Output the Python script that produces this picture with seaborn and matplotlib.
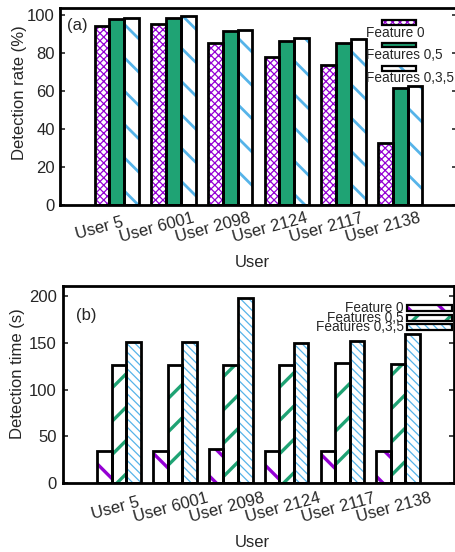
import pandas as pd
import matplotlib
matplotlib.use('Agg')
import matplotlib.pyplot as plt
import matplotlib.transforms as mtransforms
from matplotlib.patches import Rectangle
import seaborn as sns

# data
users = ['User 5', 'User 6001', 'User 2098', 'User 2124', 'User 2117', 'User 2138']
features = ['Feature 0', 'Features 0,5', 'Features 0,3,5']

rate_f0 = [94.2, 95.3, 85.1, 77.7, 73.7, 32.8]
rate_f05 = [97.9, 98.4, 91.6, 86.5, 85.1, 61.4]
rate_f035 = [98.4, 99.5, 91.9, 88.0, 87.2, 62.6]

time_f0 = [34.3, 34.3, 36.1, 34.3, 34.3, 34.3]
time_f05 = [126.7, 126.7, 126.4, 126.0, 128.2, 128.0]
time_f035 = [151.4, 150.7, 198.5, 150.3, 152.0, 159.6]

purple = '#9400d3'
green = '#1fa374'
blue = '#56b4e9'

sns.set_theme(style='white')
plt.rcParams['font.family'] = ['Liberation Sans', 'DejaVu Sans']
plt.rcParams['hatch.linewidth'] = 0.8

FS = 6.0
LFS = 4.9
DPI = 200


def long_df(vals):
    rows = []
    for feat, series in zip(features, vals):
        for u, v in zip(users, series):
            rows.append({'user': u, 'feature': feat, 'value': v})
    return pd.DataFrame(rows)


df_rate = long_df([rate_f0, rate_f05, rate_f035])
df_time = long_df([time_f0, time_f05, time_f035])

top_styles = [
    dict(fc='white', hatch='x' * 9, hc=purple, hlw=0.45),
    dict(fc=green, hatch=None, hc=green, hlw=0.5),
    dict(fc='white', hatch='\\' * 2, hc=blue, hlw=1.0),
]
bot_styles = [
    dict(fc='white', hatch='\\' * 2, hc=purple, hlw=1.2),
    dict(fc='white', hatch='/' * 2, hc=green, hlw=1.2),
    dict(fc='white', hatch='\\' * 8, hc=blue, hlw=0.45),
]


def style_patch(p, st):
    p.set_facecolor(st['fc'])
    p.set_edgecolor(st['hc'])
    p.set_linewidth(0)
    if st['hatch']:
        p.set_hatch(st['hatch'])
    if hasattr(p, 'set_hatch_linewidth'):
        p.set_hatch_linewidth(st['hlw'])


def outline(ax, p):
    ax.add_patch(Rectangle(p.get_xy(), p.get_width(), p.get_height(),
                           fill=False, ec='black', lw=1.0,
                           zorder=p.get_zorder() + 0.1))


def draw_panel(ax, df, styles, ylim, yticks, ylabel, lab_pad, lab_dx):
    sns.barplot(data=df, x='user', y='value', hue='feature', ax=ax,
                width=0.78, legend=False, errorbar=None,
                palette=['white', 'white', 'white'])
    bars = list(ax.patches)
    for i, p in enumerate(bars):
        style_patch(p, styles[i // len(users)])
    for p in bars:
        outline(ax, p)
    ax.set_xlim(-1, 6)
    ax.set_ylim(*ylim)
    ax.set_yticks(yticks)
    ax.set_xticks(range(len(users)))
    ax.set_xticklabels(users, rotation=15, ha='center', va='center',
                       rotation_mode='anchor', fontsize=FS)
    ax.tick_params(axis='y', direction='in', length=1.8, width=0.6,
                   right=True, left=True, labelsize=FS)
    ax.tick_params(axis='x', length=0, pad=lab_pad)
    shift = mtransforms.ScaledTranslation(lab_dx / DPI, 0,
                                          ax.figure.dpi_scale_trans)
    for lbl in ax.get_xticklabels():
        lbl.set_transform(lbl.get_transform() + shift)
    for s in ax.spines.values():
        s.set_linewidth(1.0)
        s.set_color('black')
    ax.set_ylabel(ylabel, fontsize=FS)
    ax.set_xlabel('User', fontsize=FS)


fig = plt.figure(figsize=(2.28, 2.76), dpi=DPI)
W, H = 456, 552
ax1 = fig.add_axes([60 / W, 1 - 205 / H, 397 / W, 197 / H])
ax2 = fig.add_axes([63.3 / W, 1 - 483 / H, 390.7 / W, 197.3 / H])

draw_panel(ax1, df_rate, top_styles, (0, 103.7), [0, 20, 40, 60, 80, 100],
           'Detection rate (%)', 8.3, -17)
draw_panel(ax2, df_time, bot_styles, (0, 211.4), [0, 50, 100, 150, 200],
           'Detection time (s)', 9.0, -4)

ax1.tick_params(axis='y', pad=1.8)
ax2.tick_params(axis='y', pad=2.4)

ax1.yaxis.set_label_coords(-0.083, 0.569)
ax2.yaxis.set_label_coords(-0.098, 0.5525)
ax1.xaxis.set_label_coords(0.484, -0.254)
ax2.xaxis.set_label_coords(0.483, -0.264)

ax1.text(0.018, 0.909, '(a)', transform=ax1.transAxes, fontsize=FS,
         ha='left', va='center')
ax2.text(0.033, 0.851, '(b)', transform=ax2.transAxes, fontsize=FS,
         ha='left', va='center')

# legend of panel (a): key sample above its text
for i, (feat, st) in enumerate(zip(features, top_styles)):
    yc = [0.926, 0.812, 0.695][i]
    yt = [0.873, 0.761, 0.645][i]
    r = Rectangle((0.811, yc - 0.0125), 0.086, 0.025, transform=ax1.transAxes,
                  zorder=5)
    style_patch(r, st)
    ax1.add_patch(r)
    ax1.add_patch(Rectangle((0.811, yc - 0.0125), 0.086, 0.025,
                            transform=ax1.transAxes, fill=False, ec='black',
                            lw=0.8, zorder=6))
    ax1.text(0.771, yt, feat, transform=ax1.transAxes, fontsize=LFS,
             ha='left', va='center', zorder=7)

# legend of panel (b): text, then key sample to its right
for i, (feat, st) in enumerate(zip(features, bot_styles)):
    yc = [0.885, 0.838, 0.789][i]
    r = Rectangle((0.88, yc - 0.015), 0.114, 0.03, transform=ax2.transAxes,
                  zorder=5)
    style_patch(r, st)
    ax2.add_patch(r)
    ax2.add_patch(Rectangle((0.88, yc - 0.015), 0.114, 0.03,
                            transform=ax2.transAxes, fill=False, ec='black',
                            lw=0.8, zorder=6))
    ax2.text(0.872, yc, feat, transform=ax2.transAxes, fontsize=LFS,
             ha='right', va='center', zorder=7)

fig.savefig('out.png', dpi=DPI)
